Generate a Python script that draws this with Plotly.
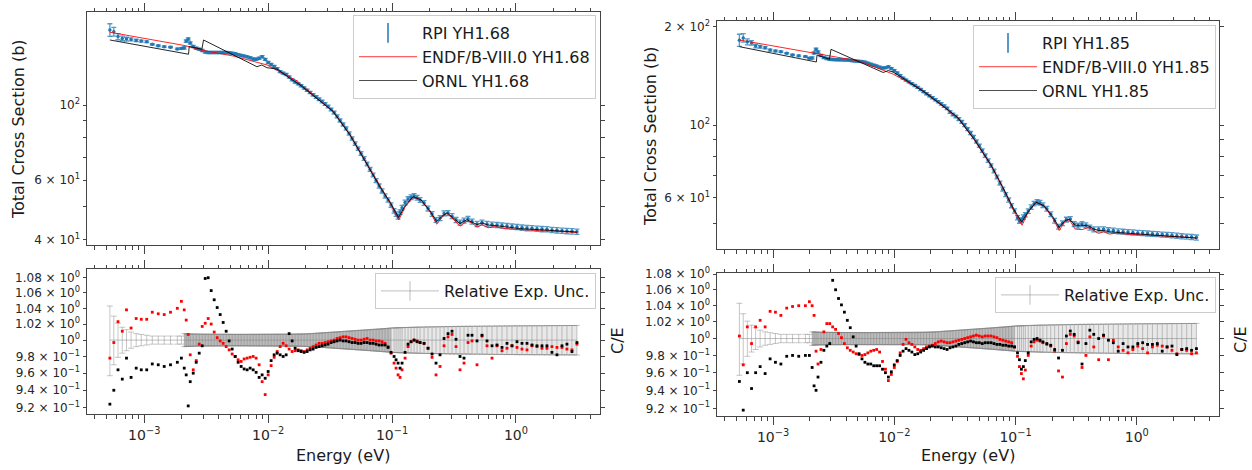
import plotly.graph_objects as go

# ---------------- data ----------------
energy_ev = [
    5.28e-4, 5.68e-4, 6.14e-4, 6.65e-4, 7.19e-4, 7.83e-4, 8.61e-4, 9.46e-4, 1.047e-3, 1.161e-3,
    1.297e-3, 1.449e-3, 1.629e-3, 1.849e-3, 1.995e-3,
    2.102e-3, 2.181e-3, 2.264e-3, 2.350e-3, 2.485e-3, 2.627e-3, 2.777e-3, 2.936e-3, 3.104e-3, 3.281e-3,
    3.469e-3, 3.668e-3, 3.878e-3, 4.100e-3, 4.334e-3, 4.583e-3, 4.845e-3, 5.122e-3, 5.416e-3, 5.725e-3,
    6.054e-3, 6.400e-3, 6.766e-3, 7.154e-3, 7.568e-3, 7.997e-3, 8.456e-3, 8.942e-3, 9.459e-3, 1.000e-2,
    1.057e-2, 1.118e-2, 1.182e-2, 1.250e-2, 1.321e-2, 1.397e-2, 1.477e-2, 1.561e-2, 1.651e-2, 1.746e-2,
    1.845e-2, 1.951e-2, 2.063e-2, 2.181e-2, 2.306e-2, 2.438e-2, 2.578e-2, 2.725e-2, 2.882e-2, 3.047e-2,
    3.222e-2, 3.406e-2, 3.601e-2, 3.807e-2, 4.025e-2, 4.256e-2, 4.500e-2, 4.757e-2, 5.030e-2, 5.318e-2,
    5.623e-2, 5.945e-2, 6.285e-2, 6.645e-2, 7.026e-2, 7.430e-2, 7.853e-2, 8.305e-2, 8.780e-2, 9.283e-2,
    9.815e-2,
    0.1038, 0.1077, 0.1118, 0.1160, 0.1204, 0.1273, 0.1346, 0.1423, 0.1505, 0.1591,
    0.1682, 0.1812, 0.1951, 0.2102, 0.2263, 0.2438, 0.2627, 0.2829, 0.3047, 0.3282,
    0.3535, 0.3807, 0.4101, 0.4417, 0.4848, 0.5319, 0.5837, 0.6406, 0.7028, 0.7711,
    0.8461, 0.9284, 1.019, 1.118, 1.227, 1.346, 1.477, 1.621, 1.778, 1.951,
    2.141, 2.350, 2.578, 2.829, 3.104,
]

rel_exp_unc = [
    0.043, 0.030, 0.021, 0.016, 0.013, 0.010, 0.008, 0.007, 0.006, 0.005,
    0.005, 0.005, 0.005, 0.005, 0.005,
    0.0080, 0.0078, 0.0077, 0.0076, 0.0075, 0.0075, 0.0074, 0.0074, 0.0073, 0.0073,
    0.0073, 0.0072, 0.0072, 0.0072, 0.0072, 0.0072, 0.0071, 0.0071, 0.0071, 0.0071,
    0.0071, 0.0071, 0.0071, 0.0071, 0.0071, 0.0071, 0.0071, 0.0071, 0.0071, 0.0071,
    0.0071, 0.0071, 0.0071, 0.0071, 0.0071, 0.0071, 0.0071, 0.0071, 0.0072, 0.0072,
    0.0073, 0.0075, 0.0077, 0.0080, 0.0082, 0.0085, 0.0087, 0.0090, 0.0092, 0.0095,
    0.0097, 0.0100, 0.0102, 0.0105, 0.0107, 0.0110, 0.0112, 0.0115, 0.0117, 0.0120,
    0.0122, 0.0125, 0.0127, 0.0130, 0.0133, 0.0135, 0.0138, 0.0140, 0.0143, 0.0146,
    0.0150,
    0.0152, 0.0153, 0.0154, 0.0155, 0.0156, 0.0157, 0.0158, 0.0159, 0.0160, 0.0161,
    0.0162, 0.0163, 0.0164, 0.0165, 0.0166, 0.0167, 0.0168, 0.0169, 0.0170, 0.0171,
    0.0172, 0.0172, 0.0173, 0.0173, 0.0174, 0.0174, 0.0175, 0.0175, 0.0176, 0.0176,
    0.0177, 0.0177, 0.0178, 0.0178, 0.0178, 0.0179, 0.0179, 0.0179, 0.0180, 0.0180,
    0.0180, 0.0181, 0.0181, 0.0181, 0.0182,
]

rpi_yh168_b = [
    166.7, 164.8, 159.3, 157.4, 156.6, 156.3, 155.2, 154.5, 153.8, 151.2,
    149.7, 148.8, 148.2, 146.5, 147.0,
    147.5, 154.5, 156.7, 152.6, 149.0, 147.2, 146.2, 145.0, 143.5, 143.0,
    143.0, 143.0, 143.0, 143.0, 143.0, 142.9, 142.7, 142.3, 141.8, 140.9,
    140.1, 139.5, 138.8, 138.0, 136.8, 136.6, 137.5, 139.0, 136.4, 133.6,
    131.8, 130.0, 128.1, 125.5, 124.2, 123.1, 121.0, 118.7, 117.0, 115.5,
    114.0, 112.3, 110.5, 108.9, 107.2, 105.6, 104.0, 102.4, 100.7, 99.0,
    97.0, 95.0, 92.5, 90.0, 87.6, 85.2, 82.4, 79.6, 76.9, 74.3,
    71.9, 69.5, 66.9, 64.5, 62.1, 59.8, 57.6, 55.7, 53.8, 52.4,
    50.6,
    48.6, 47.6, 46.7, 48.2, 49.7, 51.5, 52.7, 53.4, 53.8, 53.2,
    52.4, 51.3, 49.4, 47.6, 45.7, 46.3, 47.8, 47.9, 46.9, 45.7,
    44.9, 45.5, 46.0, 45.2, 44.5, 44.9, 44.5, 44.3, 44.16, 44.0,
    43.85, 43.7, 43.55, 43.4, 43.25, 43.2, 43.05, 42.96, 42.9, 42.7,
    42.6, 42.5, 42.38, 42.3, 42.2,
]

rpi_yh185_b = [
    182.0, 185.0, 180.0, 178.6, 174.6, 173.8, 172.6, 169.8, 168.7, 167.9,
    166.0, 164.0, 163.0, 162.2, 160.3,
    160.5, 166.3, 170.7, 167.5, 163.4, 161.1, 159.9, 159.2, 158.9, 158.7,
    158.6, 158.5, 158.4, 158.3, 157.8, 157.5, 157.1, 156.8, 156.5, 155.8,
    154.7, 153.6, 152.5, 151.6, 150.5, 149.5, 149.9, 150.8, 149.0, 146.9,
    144.4, 141.8, 139.2, 137.4, 135.6, 133.9, 132.2, 130.4, 128.5, 126.6,
    124.7, 122.9, 121.3, 119.6, 117.9, 116.1, 114.3, 112.5, 109.6, 107.7,
    106.2, 104.3, 102.3, 100.0, 97.2, 94.5, 91.9, 89.0, 86.4, 83.5,
    80.6, 77.8, 75.1, 72.3, 69.3, 66.4, 63.6, 61.2, 58.9, 56.6,
    54.5,
    52.0, 50.77, 51.1, 52.2, 53.1, 54.5, 56.0, 57.4, 58.1, 57.8,
    56.8, 55.4, 53.3, 50.9, 48.8, 50.0, 51.3, 51.5, 49.7, 49.15,
    49.7, 49.3, 48.5, 47.9, 47.9, 47.9, 47.6, 47.5, 47.2, 47.1,
    46.98, 46.85, 46.7, 46.64, 46.5, 46.4, 46.3, 46.15, 46.06, 45.96,
    45.8, 45.6, 45.5, 45.36, 45.2,
]

ce_endf_yh168 = [
    0.978, 0.997, 1.023, 1.011, 1.038, 1.015, 1.027, 1.026, 1.026, 1.035,
    1.033, 1.032, 1.035, 1.040, 1.049,
    1.038, 1.025, 1.007, 0.982, 0.964, 0.975, 0.995, 1.017, 1.021, 1.027,
    1.020, 1.010, 1.003, 0.999, 0.996, 0.992, 0.988, 0.983, 0.980, 0.976,
    0.974, 0.977, 0.978, 0.979, 0.980, 0.978, 0.970, 0.950, 0.935, 0.958,
    0.969, 0.979, 0.986, 0.992, 0.996, 0.993, 0.989, 0.986, 0.987, 0.988,
    0.987, 0.986, 0.988, 0.990, 0.992, 0.994, 0.996, 0.996, 0.997, 0.998,
    0.999, 1.000, 1.002, 1.003, 1.004, 1.004, 1.003, 1.002, 1.001, 1.000,
    1.000, 1.001, 1.002, 1.000, 1.000, 0.999, 0.999, 0.998, 0.996, 0.992,
    0.984,
    0.972, 0.966, 0.958, 0.955, 0.964, 0.978, 0.992, 0.998, 1.000, 0.999,
    0.997, 0.996, 0.990, 0.979, 0.958, 0.968, 0.993, 1.004, 1.007, 0.992,
    0.964, 0.972, 0.997, 0.999, 0.970, 1.005, 0.993, 0.978, 0.993, 0.987,
    0.990, 0.993, 0.991, 0.989, 0.988, 0.993, 0.992, 0.990, 0.990, 0.992,
    0.991, 0.991, 0.989, 0.988, 0.995,
]

ce_ornl_yh168 = [
    0.924, 0.940, 0.964, 0.953, 0.978, 0.955, 0.966, 0.964, 0.964, 0.971,
    0.970, 0.968, 0.970, 0.973, 0.978,
    0.966, 0.958, 0.922, 0.950, 0.960, 0.973, 0.984, 0.993, 1.079, 1.080,
    1.063, 1.051, 1.041, 1.032, 1.022, 1.011, 0.999, 0.989, 0.980, 0.973,
    0.968, 0.965, 0.964, 0.966, 0.964, 0.961, 0.955, 0.958, 0.954, 0.962,
    0.975, 0.982, 0.984, 0.982, 0.980, 0.982, 1.008, 0.999, 0.990, 0.987,
    0.986, 0.985, 0.986, 0.988, 0.989, 0.991, 0.992, 0.993, 0.994, 0.995,
    0.997, 0.998, 0.999, 1.000, 0.999, 0.999, 0.998, 0.997, 0.997, 0.996,
    0.996, 0.997, 0.997, 0.996, 0.996, 0.995, 0.994, 0.994, 0.994, 0.991,
    0.985,
    0.980, 0.976, 0.972, 0.966, 0.972, 0.985, 0.995, 0.998, 1.000, 0.998,
    0.997, 0.996, 0.990, 0.983, 0.972, 0.982, 1.002, 1.008, 1.011, 1.001,
    0.980, 0.978, 1.006, 1.006, 0.999, 1.006, 0.999, 0.993, 0.994, 0.991,
    0.996, 0.993, 0.998, 0.996, 0.996, 0.994, 0.993, 0.993, 0.993, 0.985,
    0.982, 0.993, 0.995, 0.986, 0.997,
]

ce_endf_yh185 = [
    1.003, 0.969, 1.014, 0.994, 1.014, 1.022, 1.014, 1.033, 1.032, 1.028,
    1.037, 1.039, 1.040, 1.040, 1.045,
    1.040, 1.028, 0.985, 0.970, 0.987, 1.008, 1.018, 1.018, 1.014, 1.011,
    1.006, 1.001, 0.994, 0.989, 0.986, 0.984, 0.982, 0.981, 0.980, 0.981,
    0.983, 0.985, 0.986, 0.987, 0.984, 0.973, 0.964, 0.951, 0.958, 0.966,
    0.973, 0.983, 0.993, 0.999, 0.995, 0.993, 0.990, 0.987, 0.986, 0.988,
    0.990, 0.991, 0.992, 0.994, 0.996, 0.997, 0.996, 0.995, 0.995, 0.996,
    0.997, 0.998, 0.999, 1.000, 1.001, 1.002, 1.003, 1.004, 1.003, 1.002,
    1.003, 1.003, 1.003, 1.002, 1.001, 0.999, 0.998, 0.997, 0.996, 0.995,
    0.990,
    0.979, 0.967, 0.959, 0.953, 0.963, 0.980, 0.991, 0.996, 0.998, 0.997,
    0.995, 0.993, 0.991, 0.985, 0.962, 0.955, 0.994, 1.005, 1.003, 0.996,
    0.966, 0.980, 1.002, 0.990, 0.975, 1.003, 0.975, 0.998, 0.990, 0.986,
    0.983, 0.987, 0.991, 0.988, 0.983, 0.990, 0.992, 0.991, 0.990, 0.986,
    0.982, 0.987, 0.986, 0.982, 0.983,
]

ce_ornl_yh185 = [
    0.950, 0.918, 0.960, 0.942, 0.960, 0.967, 0.959, 0.976, 0.972, 0.970,
    0.979, 0.980, 0.979, 0.980, 0.980,
    0.966, 0.945, 0.940, 0.955, 0.972, 0.986, 0.991, 0.994, 1.072, 1.060,
    1.049, 1.041, 1.032, 1.022, 1.013, 1.002, 0.991, 0.982, 0.976, 0.972,
    0.970, 0.970, 0.968, 0.968, 0.968, 0.964, 0.960, 0.955, 0.961, 0.969,
    0.974, 0.980, 0.985, 0.988, 0.986, 0.984, 0.981, 0.982, 0.984, 0.986,
    0.988, 0.990, 0.991, 0.990, 0.990, 0.989, 0.988, 0.987, 0.989, 0.990,
    0.991, 0.993, 0.994, 0.995, 0.996, 0.997, 0.996, 0.995, 0.995, 0.994,
    0.995, 0.995, 0.995, 0.994, 0.993, 0.993, 0.992, 0.992, 0.991, 0.991,
    0.990,
    0.983, 0.975, 0.964, 0.967, 0.974, 0.983, 0.996, 0.999, 1.000, 0.998,
    0.996, 0.994, 0.992, 0.987, 0.977, 0.986, 1.003, 1.009, 1.005, 0.995,
    0.970, 0.994, 1.010, 1.005, 1.000, 1.004, 0.998, 0.995, 0.985, 0.994,
    0.990, 0.990, 0.994, 0.995, 0.993, 0.993, 0.994, 0.985, 0.990, 0.991,
    0.981, 0.987, 0.988, 0.986, 0.988,
]

endf_energy_ev = [
    5.28e-4, 1.118e-3, 2.141e-3, 2.828e-3, 5.218e-3, 9.815e-3, 1.423e-2, 1.713e-2, 2.627e-2, 3.343e-2,
    4.584e-2, 6.285e-2, 8.000e-2, 9.636e-2, 0.1132, 0.1273, 0.1477, 0.1714, 0.2025, 0.2293,
    0.2530, 0.2777, 0.3103, 0.3535, 0.4025, 0.4417, 0.4848, 0.5319, 0.5945, 0.6771,
    0.8153, 1.077, 1.561, 2.263, 3.104,
]
endf_yh168_b = [
    164.1, 156.4, 149.8, 145.5, 139.6, 131.3, 122.3, 117.8, 102.8, 95.7,
    81.5, 66.9, 57.2, 51.3, 45.7, 49.9, 53.4, 52.4, 48.3, 44.4,
    46.6, 47.8, 46.0, 43.8, 45.4, 44.8, 43.55, 44.3, 43.35, 43.7,
    43.1, 42.8, 42.5, 42.25, 41.97,
]
endf_yh185_b = [
    182.3, 173.5, 166.3, 163.3, 156.9, 143.2, 133.1, 128.0, 112.7, 105.1,
    89.9, 75.1, 63.4, 54.8, 49.3, 54.1, 58.0, 56.4, 51.85, 47.5,
    50.4, 51.3, 47.97, 47.8, 48.5, 47.6, 46.53, 47.1, 46.3, 46.64,
    46.3, 46.1, 45.7, 45.45, 45.1,
]

ornl_energy_ev = [
    5.28e-4, 2.277e-3, 2.306e-3, 2.920e-3, 3.008e-3, 8.106e-3, 8.896e-3, 9.761e-3, 1.176e-2, 1.415e-2,
    1.505e-2, 1.811e-2, 2.627e-2, 3.343e-2, 4.584e-2, 6.285e-2, 8.000e-2, 9.636e-2, 0.1128, 0.1273,
    0.1477, 0.1714, 0.2025, 0.2293, 0.2530, 0.2777, 0.3103, 0.3535, 0.4025, 0.4417,
    0.4848, 0.5319, 0.5945, 0.6771, 0.8153, 1.077, 1.561, 2.263, 3.104,
]
ornl_yh168_b = [
    155.7, 141.3, 149.0, 146.2, 155.7, 129.8, 131.3, 128.9, 127.8, 121.4,
    119.8, 114.6, 103.1, 95.7, 81.5, 66.9, 57.2, 51.6, 46.5, 50.3,
    53.6, 52.4, 48.6, 45.2, 46.9, 48.0, 46.5, 44.6, 45.8, 45.05,
    44.3, 44.8, 44.16, 44.0, 43.55, 43.1, 42.76, 42.38, 42.1,
]
ornl_yh185_b = [
    173.9, 156.1, 163.9, 159.1, 170.7, 144.9, 146.9, 145.4, 139.4, 133.1,
    131.2, 125.4, 113.1, 105.4, 90.3, 75.4, 63.6, 55.25, 50.4, 54.3,
    58.0, 56.6, 52.4, 48.5, 50.77, 51.5, 49.3, 49.3, 49.0, 47.97,
    47.5, 47.5, 47.1, 46.98, 46.64, 46.3, 45.8, 45.4, 45.0,
]

sample_labels = ["YH1.68", "YH1.85"]

# tick labels
x_tick_vals = [1e-3, 1e-2, 1e-1, 1.0]
x_tick_text = ["10<sup>−3</sup>", "10<sup>−2</sup>", "10<sup>−1</sup>", "10<sup>0</sup>"]
sigma_ticks_168 = [40, 60, 100]
sigma_text_168 = ["4 × 10<sup>1</sup>", "6 × 10<sup>1</sup>", "10<sup>2</sup>"]
sigma_ticks_185 = [60, 100, 200]
sigma_text_185 = ["6 × 10<sup>1</sup>", "10<sup>2</sup>", "2 × 10<sup>2</sup>"]
sigma_minor = [50, 70, 80, 90]
ce_ticks = [0.92, 0.94, 0.96, 0.98, 1.00, 1.02, 1.04, 1.06, 1.08]
ce_text = ["9.2 × 10<sup>−1</sup>", "9.4 × 10<sup>−1</sup>", "9.6 × 10<sup>−1</sup>",
           "9.8 × 10<sup>−1</sup>", "10<sup>0</sup>", "1.02 × 10<sup>0</sup>",
           "1.04 × 10<sup>0</sup>", "1.06 × 10<sup>0</sup>", "1.08 × 10<sup>0</sup>"]

# ---------------- styling ----------------
FONT = "DejaVu Sans"
TXT = "#262626"
AX = "#444444"
BLUE = "#1f77b4"
W, H = 1252, 470

x_minor_vals = [m * 10.0 ** d for d in range(-4, 1) for m in range(2, 10)
                if 3.5e-4 < m * 10.0 ** d < 4.7]
XRANGE = [-3.462, 0.678]

def px_dom_x(a, b):
    return [a / W, b / W]

def px_dom_y(top, bottom):
    return [1 - bottom / H, 1 - top / H]

def xaxis(dom, anchor, labels):
    return dict(type="log", range=XRANGE, domain=dom, anchor=anchor,
                showline=True, linecolor=AX, linewidth=1, mirror="allticks",
                ticks="outside", ticklen=8, tickwidth=1, tickcolor=AX,
                tickmode="array", tickvals=x_tick_vals, ticktext=x_tick_text,
                showticklabels=labels, tickfont=dict(family=FONT, size=14, color=TXT),
                minor=dict(ticks="outside", ticklen=3.5, tickwidth=1, tickcolor=AX,
                           tickmode="array", tickvals=x_minor_vals, showgrid=False),
                showgrid=False, zeroline=False, automargin=False)

def yaxis(dom, anchor, rng, vals, text, minor):
    return dict(type="log", range=rng, domain=dom, anchor=anchor,
                showline=True, linecolor=AX, linewidth=1, mirror="allticks",
                ticks="outside", ticklen=3.5, tickwidth=1, tickcolor=AX,
                tickmode="array", tickvals=vals, ticktext=text,
                tickfont=dict(family=FONT, size=12, color=TXT),
                minor=dict(ticks="outside", ticklen=3.5, tickwidth=1, tickcolor=AX,
                           tickmode="array", tickvals=minor, showgrid=False),
                showgrid=False, zeroline=False, automargin=False)

def yaxis_major(over, anchor, rng, vals):
    return dict(type="log", range=rng, overlaying=over, anchor=anchor, side="left",
                showline=False, mirror="ticks", ticks="outside", ticklen=8, tickwidth=1,
                tickcolor=AX, tickmode="array", tickvals=vals, showticklabels=False,
                showgrid=False, zeroline=False, automargin=False)

fig = go.Figure()

panels = [
    dict(xt="x", yt="y", xb="x2", yb="y2", rpi=rpi_yh168_b, endf=endf_yh168_b, ornl=ornl_yh168_b,
         ce_e=ce_endf_yh168, ce_o=ce_ornl_yh168, lab=sample_labels[0], lt="legend", lb="legend2"),
    dict(xt="x3", yt="y3", xb="x4", yb="y4", rpi=rpi_yh185_b, endf=endf_yh185_b, ornl=ornl_yh185_b,
         ce_e=ce_endf_yh185, ce_o=ce_ornl_yh185, lab=sample_labels[1], lt="legend3", lb="legend4"),
]

n_sparse = 15
n_dense_end = 86
for p in panels:
    # ---- top: cross sections ----
    fig.add_trace(go.Scatter(
        x=energy_ev, y=p["rpi"], mode="markers", xaxis=p["xt"], yaxis=p["yt"],
        marker=dict(size=3.5, color=BLUE),
        error_y=dict(type="data", array=[u * s for u, s in zip(rel_exp_unc, p["rpi"])],
                     color="rgba(31,119,180,0.75)", thickness=1.3, width=2.5),
        showlegend=False, hoverinfo="skip"))
    fig.add_trace(go.Scatter(
        x=endf_energy_ev, y=p["endf"], mode="lines", xaxis=p["xt"], yaxis=p["yt"],
        line=dict(color="rgba(255,0,0,0.85)", width=1), showlegend=False))
    fig.add_trace(go.Scatter(
        x=ornl_energy_ev, y=p["ornl"], mode="lines", xaxis=p["xt"], yaxis=p["yt"],
        line=dict(color="rgba(0,0,0,0.85)", width=1), showlegend=False))
    # legend entries
    fig.add_trace(go.Scatter(
        x=[None], y=[None], mode="markers", xaxis=p["xt"], yaxis=p["yt"],
        marker=dict(symbol="line-ns-open", size=14, color=BLUE, line=dict(width=1.5, color=BLUE)),
        name="RPI " + p["lab"], legend=p["lt"]))
    fig.add_trace(go.Scatter(
        x=[None], y=[None], mode="lines", xaxis=p["xt"], yaxis=p["yt"],
        line=dict(color="rgba(255,80,80,0.9)", width=1.2), name="ENDF/B-VIII.0 " + p["lab"],
        legend=p["lt"]))
    fig.add_trace(go.Scatter(
        x=[None], y=[None], mode="lines", xaxis=p["xt"], yaxis=p["yt"],
        line=dict(color="rgba(60,60,60,0.9)", width=1.2), name="ORNL " + p["lab"],
        legend=p["lt"]))

    # ---- bottom: C/E ----
    for lo, hi, fc in [(n_sparse, n_dense_end, "rgba(95,95,95,0.42)"),
                       (n_dense_end - 1, len(energy_ev), "rgba(150,150,150,0.22)")]:
        fig.add_trace(go.Scatter(
            x=energy_ev[lo:hi], y=[1 + u for u in rel_exp_unc[lo:hi]], mode="lines",
            xaxis=p["xb"], yaxis=p["yb"], line=dict(color="rgba(80,80,80,0.55)", width=0.8),
            showlegend=False, hoverinfo="skip"))
        fig.add_trace(go.Scatter(
            x=energy_ev[lo:hi], y=[1 - u for u in rel_exp_unc[lo:hi]], mode="lines",
            xaxis=p["xb"], yaxis=p["yb"], line=dict(color="rgba(80,80,80,0.55)", width=0.8),
            fill="tonexty", fillcolor=fc, showlegend=False, hoverinfo="skip"))
    fig.add_trace(go.Scatter(
        x=energy_ev, y=[1.0 for _ in energy_ev], mode="lines", xaxis=p["xb"], yaxis=p["yb"],
        line=dict(color="rgba(128,128,128,0.5)", width=1),
        error_y=dict(type="data", array=rel_exp_unc, color="rgba(128,128,128,0.45)",
                     thickness=1, width=3),
        showlegend=False, hoverinfo="skip"))
    fig.add_trace(go.Scatter(
        x=[None], y=[None], mode="lines+markers", xaxis=p["xb"], yaxis=p["yb"],
        line=dict(color="rgba(128,128,128,0.5)", width=1),
        marker=dict(symbol="line-ns-open", size=14, color="rgba(128,128,128,0.5)",
                    line=dict(width=1, color="rgba(128,128,128,0.5)")),
        name="Relative Exp. Unc.", legend=p["lb"]))
    fig.add_trace(go.Scatter(
        x=energy_ev, y=p["ce_e"], mode="markers", xaxis=p["xb"], yaxis=p["yb"],
        marker=dict(symbol="square", size=2.8, color="red"), showlegend=False))
    fig.add_trace(go.Scatter(
        x=energy_ev, y=p["ce_o"], mode="markers", xaxis=p["xb"], yaxis=p["yb"],
        marker=dict(symbol="square", size=2.8, color="black"), showlegend=False))

R_TL = [1.586, 2.275]
R_TR = [1.620, 2.319]
R_BL = [-0.0396, 0.0381]
R_BR = [-0.0402, 0.0340]

legend_style = dict(bgcolor="rgba(255,255,255,0.8)", bordercolor="#cccccc", borderwidth=1,
                    font=dict(family=FONT, size=16, color="#1a1a1a"),
                    xanchor="right", yanchor="top", tracegroupgap=0,
                    traceorder="normal", itemwidth=58)

fig.update_layout(
    width=W, height=H, autosize=False,
    margin=dict(l=0, r=0, t=0, b=0),
    paper_bgcolor="white", plot_bgcolor="white",
    template="none",
    font=dict(family=FONT, color=TXT),
    xaxis=xaxis(px_dom_x(87, 600), "y", False),
    yaxis=yaxis(px_dom_y(12, 245), "x", R_TL, sigma_ticks_168, sigma_text_168, sigma_minor),
    xaxis2=xaxis(px_dom_x(87, 600), "y2", True),
    yaxis2=yaxis(px_dom_y(269, 414), "x2", R_BL, ce_ticks, ce_text, []),
    xaxis3=xaxis(px_dom_x(717, 1219), "y3", False),
    yaxis3=yaxis(px_dom_y(21, 249), "x3", R_TR, sigma_ticks_185, sigma_text_185, sigma_minor),
    xaxis4=xaxis(px_dom_x(717, 1219), "y4", True),
    yaxis4=yaxis(px_dom_y(273, 416), "x4", R_BR, ce_ticks, ce_text, []),
    yaxis5=yaxis_major("y", "x", R_TL, [100]),
    yaxis6=yaxis_major("y2", "x2", R_BL, [1.0]),
    yaxis7=yaxis_major("y3", "x3", R_TR, [100]),
    yaxis8=yaxis_major("y4", "x4", R_BR, [1.0]),
    legend=dict(x=596 / W, y=1 - 15 / H, **legend_style),
    legend2=dict(x=596 / W, y=1 - 273 / H, **legend_style),
    legend3=dict(x=1216 / W, y=1 - 25 / H, **legend_style),
    legend4=dict(x=1216 / W, y=1 - 277 / H, **legend_style),
    showlegend=True,
)

def label(text, xpx, ypx, angle=0):
    fig.add_annotation(text=text, x=xpx / W, y=1 - ypx / H, xref="paper", yref="paper",
                       showarrow=False, textangle=angle, xanchor="center", yanchor="middle",
                       font=dict(family=FONT, size=16, color="#1a1a1a"))

label("Total Cross Section (b)", 18, 129, -90)
label("Total Cross Section (b)", 650, 136, -90)
label("Energy (eV)", 343, 455)
label("Energy (eV)", 968, 455)
label("C/E", 617, 341, -90)
label("C/E", 1240, 340, -90)

fig.write_html("out.html",
               config={"displayModeBar": False},
               post_script="document.body.style.margin='0px';document.body.style.overflow='hidden';")
